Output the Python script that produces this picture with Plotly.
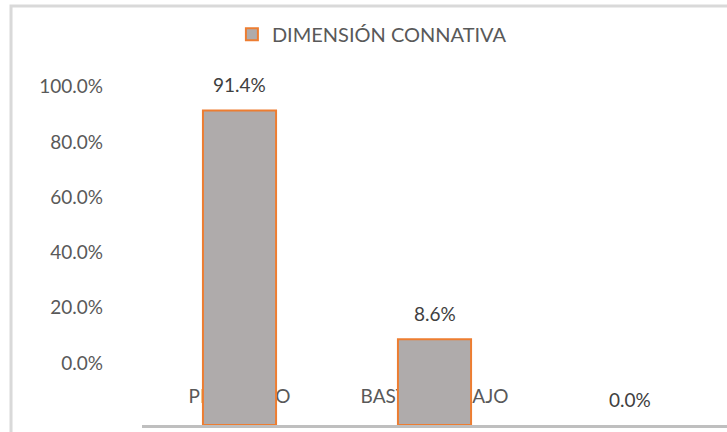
import plotly.graph_objects as go

# ---- data ----
categories = ["PROMEDIO", "BASTANTE BAJO", "ALTO"]
tick_labels = ["PROMEDIO", "BASTANTE BAJO", ""]
values = [91.4, 8.6, 0.0]
series_name = "DIMENSIÓN CONNATIVA"
y_ticks = [0, 20, 40, 60, 80, 100]
y_tick_labels = ["0.0%", "20.0%", "40.0%", "60.0%", "80.0%", "100.0%"]

# ---- style ----
BAR_BASE = -22.4
FILL = "#AFABAB"
EDGE = "#ED7D31"
FONT = "Lato"

heights = [(v - BAR_BASE) if v > 0 else None for v in values]
tops = [BAR_BASE + (h if h is not None else 0) for h in heights]

fig = go.Figure()
fig.add_trace(go.Bar(
    x=categories, y=heights, base=BAR_BASE, name=series_name,
    width=0.375,
    marker=dict(color=FILL, line=dict(color=EDGE, width=2)),
    showlegend=True, hoverinfo="skip",
))

for c, v, t in zip(categories, values, tops):
    fig.add_annotation(x=c, y=t, text=f"{v:.1f}%", showarrow=False,
                       yanchor="middle", yshift=26,
                       font=dict(family=FONT, size=19, color="#404040"))

fig.add_shape(type="rect", xref="paper", yref="paper",
              x0=-0.2239, x1=1.05, y0=-0.05, y1=1.1417,
              line=dict(color="#D9D9D9", width=3), fillcolor="rgba(0,0,0,0)",
              layer="below")

fig.update_layout(
    width=727, height=432,
    margin=dict(l=142, r=0, t=58, b=7, autoexpand=False),
    plot_bgcolor="white", paper_bgcolor="white",
    font=dict(family=FONT, size=19, color="#595959"),
    showlegend=True,
    legend=dict(orientation="h", x=0.393, xanchor="center", y=1.065, yanchor="middle",
                font=dict(family=FONT, size=20, color="#595959"),
                bgcolor="rgba(0,0,0,0)"),
    xaxis=dict(
        tickmode="array", tickvals=categories, ticktext=tick_labels,
        ticklabelposition="inside", ticklabelstandoff=19,
        showline=True, linecolor="#BFBFBF", linewidth=3,
        showgrid=False, zeroline=False, ticks="",
        layer="below traces",
        range=[-0.5, 2.5],
        tickfont=dict(family=FONT, size=19, color="#595959"),
    ),
    yaxis=dict(
        range=[BAR_BASE, 110.4],
        tickmode="array", tickvals=y_ticks, ticktext=y_tick_labels,
        showgrid=False, zeroline=False, showline=False, ticks="",
        ticklabelstandoff=38,
        tickfont=dict(family=FONT, size=19, color="#595959"),
    ),
)

fig.write_html("out.html", config={"displayModeBar": False},
               post_script="document.body.style.margin='0';document.body.style.overflow='hidden';")
